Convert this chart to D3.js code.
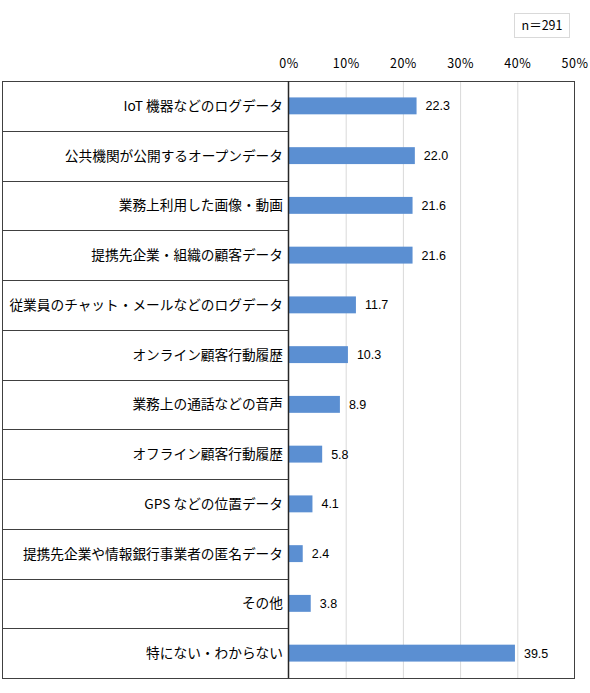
<!doctype html>
<html lang="ja">
<head>
<meta charset="utf-8">
<title>データ種別の利用状況</title>
<script src="https://cdn.jsdelivr.net/npm/d3@7/dist/d3.min.js"></script>
<style>
  html, body { margin: 0; padding: 0; background: #fff; }
  body { font-family: "Noto Sans CJK JP", "Noto Sans", sans-serif; }
  svg text { fill: #000; }
</style>
</head>
<body>
<div id="chart"></div>
<script>
// data
const categories = [
  'IoT 機器などのログデータ',
  '公共機関が公開するオープンデータ',
  '業務上利用した画像・動画',
  '提携先企業・組織の顧客データ',
  '従業員のチャット・メールなどのログデータ',
  'オンライン顧客行動履歴',
  '業務上の通話などの音声',
  'オフライン顧客行動履歴',
  'GPS などの位置データ',
  '提携先企業や情報銀行事業者の匿名データ',
  'その他',
  '特にない・わからない'
];
const values = [22.3, 22.0, 21.6, 21.6, 11.7, 10.3, 8.9, 5.8, 4.1, 2.4, 3.8, 39.5];
const ticks = [0, 10, 20, 30, 40, 50];
const sampleNote = 'n＝291';

const W = 590, H = 693;
const frame = {left: 2, top: 81, bottom: 678};
const plotLeft = 289, plotRight = 575;

const svg = d3.select('#chart').append('svg')
  .attr('width', W)
  .attr('height', H);

const x = d3.scaleLinear().domain([0, 50]).range([plotLeft, plotRight]);
const y = d3.scaleBand()
  .domain(categories)
  .range([frame.top, frame.bottom])
  .paddingInner(0.66)
  .paddingOuter(0.33);
const rows = d3.scaleBand().domain(categories).range([frame.top, frame.bottom]);

// gridlines
svg.append('g')
  .selectAll('line')
  .data(ticks.slice(1, -1))
  .enter().append('line')
  .attr('x1', d => x(d)).attr('x2', d => x(d))
  .attr('y1', frame.top).attr('y2', frame.bottom)
  .attr('stroke', '#d9d9d9')
  .attr('stroke-width', 1);

// tick labels on top
svg.append('g')
  .selectAll('text')
  .data(ticks)
  .enter().append('text')
  .attr('x', d => x(d))
  .attr('y', 68)
  .attr('text-anchor', 'middle')
  .style('font-size', '12.5px')
  .style('letter-spacing', '0.5px')
  .text(d => d + '%');

// row separators in label area
svg.append('g')
  .selectAll('line')
  .data(categories.slice(1))
  .enter().append('line')
  .attr('x1', frame.left).attr('x2', plotLeft)
  .attr('y1', d => Math.round(rows(d)) + 0.5)
  .attr('y2', d => Math.round(rows(d)) + 0.5)
  .attr('stroke', '#404040');

// bars
svg.append('g')
  .selectAll('rect')
  .data(values)
  .enter().append('rect')
  .attr('x', x(0))
  .attr('y', (d, i) => y(categories[i]))
  .attr('width', d => x(d) - x(0))
  .attr('height', y.bandwidth())
  .attr('fill', '#5b8fd2');

// value labels
svg.append('g')
  .selectAll('text')
  .data(values)
  .enter().append('text')
  .attr('x', d => x(d) + 9)
  .attr('y', (d, i) => y(categories[i]) + y.bandwidth() / 2)
  .attr('dy', '0.36em')
  .style('font-family', '"Liberation Sans", Arial, sans-serif')
  .style('font-size', '12.5px')
  .text(d => d.toFixed(1));

// category labels
svg.append('g')
  .selectAll('text')
  .data(categories)
  .enter().append('text')
  .attr('x', plotLeft - 6)
  .attr('y', d => rows(d) + rows.bandwidth() / 2)
  .attr('dy', '0.36em')
  .attr('text-anchor', 'end')
  .style('font-size', '13.7px')
  .text(d => d);

// outer frame
svg.append('rect')
  .attr('x', frame.left + 0.5).attr('y', frame.top + 0.5)
  .attr('width', plotRight - frame.left - 1)
  .attr('height', frame.bottom - frame.top)
  .attr('fill', 'none')
  .attr('stroke', '#404040');

// axis line at 0
svg.append('line')
  .attr('x1', x(0) - 0.5).attr('x2', x(0) - 0.5)
  .attr('y1', frame.top).attr('y2', frame.bottom)
  .attr('stroke', '#262626')
  .attr('stroke-width', 1.5);

// sample size box
const note = svg.append('g').attr('transform', 'translate(514,13)');
note.append('rect')
  .attr('x', 0.5).attr('y', 0.5)
  .attr('width', 55).attr('height', 24)
  .attr('fill', '#fff')
  .attr('stroke', '#d9d9d9');
note.append('text')
  .attr('x', 28).attr('y', 12.5)
  .attr('dy', '0.36em')
  .attr('text-anchor', 'middle')
  .style('font-size', '12.5px')
  .text(sampleNote);
</script>
</body>
</html>
